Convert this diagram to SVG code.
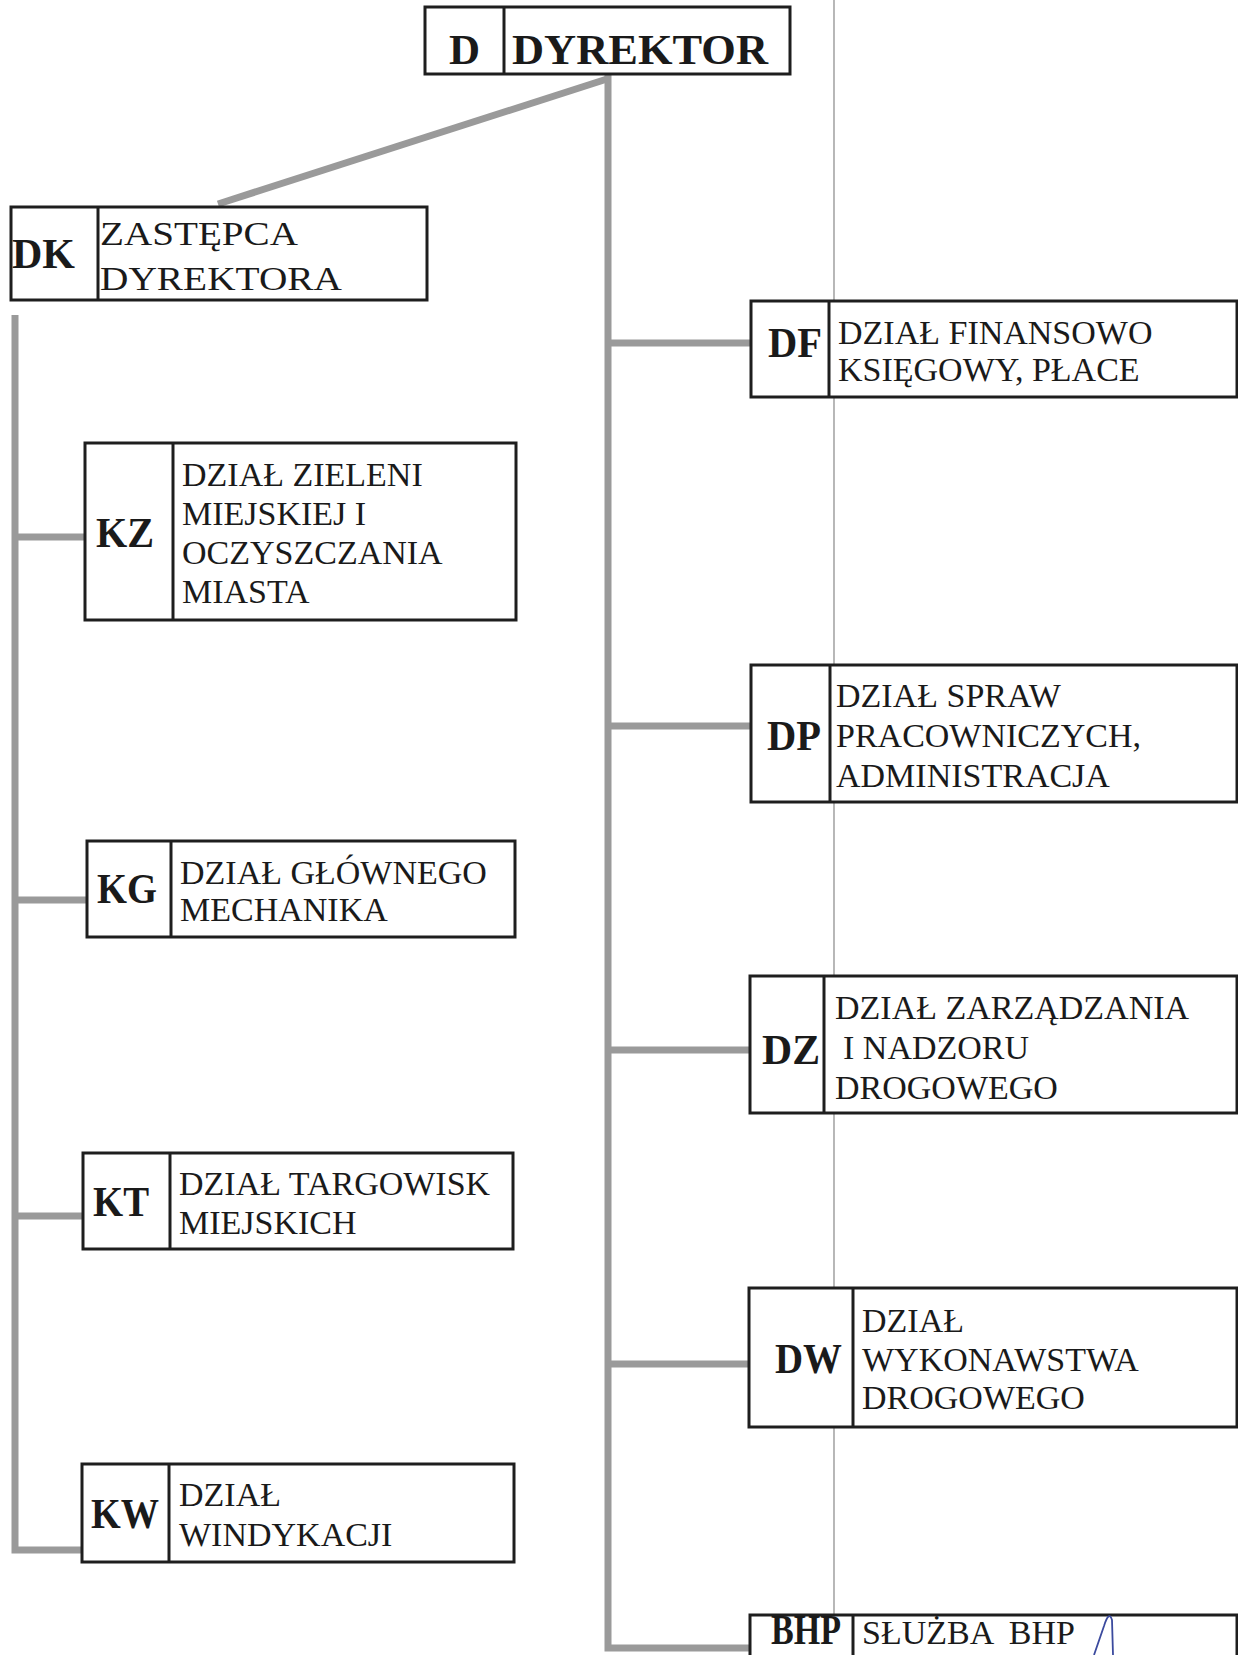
<svg xmlns="http://www.w3.org/2000/svg" width="1238" height="1655" viewBox="0 0 1238 1655">
<style>
.box{fill:#fff;stroke:#1e1e1e;stroke-width:3}
.dv{stroke:#1e1e1e;stroke-width:3}
.con{stroke:#9a9a9a;stroke-width:7;fill:none}
.code{font-family:"Liberation Serif","Times New Roman",serif;font-weight:bold;font-size:43px;fill:#1a1a1a}
.lbl{font-family:"Liberation Serif","Times New Roman",serif;font-size:34px;fill:#1a1a1a}
</style>
<rect width="1238" height="1655" fill="#fff"/>
<line x1="834" y1="0" x2="834" y2="1655" stroke="#888" stroke-width="1.2"/>
<g id="connectors">
<line class="con" x1="607" y1="79" x2="218" y2="204"/>
<polyline class="con" points="608,74 608,1648 750,1648"/>
<line class="con" x1="608" y1="343" x2="750" y2="343"/>
<line class="con" x1="608" y1="726" x2="750" y2="726"/>
<line class="con" x1="608" y1="1050" x2="749" y2="1050"/>
<line class="con" x1="608" y1="1364" x2="748" y2="1364"/>
<polyline class="con" points="15,315 15,1550 81,1550"/>
<line class="con" x1="15" y1="537" x2="84" y2="537"/>
<line class="con" x1="15" y1="900" x2="86" y2="900"/>
<line class="con" x1="15" y1="1216" x2="82" y2="1216"/>
</g>
<g id="node-D">
<rect class="box" x="425" y="7" width="365" height="67"/>
<line class="dv" x1="504" y1="7" x2="504" y2="74"/>
<text class="code" x="464.5" y="64" font-size="50" text-anchor="middle">D</text>
<text class="code" x="512" y="64" font-size="50" textLength="256" lengthAdjust="spacingAndGlyphs">DYREKTOR</text>
</g>
<g id="node-DK">
<rect class="box" x="11" y="207" width="416" height="93"/>
<line class="dv" x1="98" y1="207" x2="98" y2="300"/>
<text class="code" x="12" y="268" font-size="44" textLength="63" lengthAdjust="spacingAndGlyphs">DK</text>
<text class="lbl" x="100" y="245" font-size="40" textLength="198" lengthAdjust="spacingAndGlyphs">ZASTĘPCA</text>
<text class="lbl" x="100" y="290" font-size="40" textLength="242" lengthAdjust="spacingAndGlyphs">DYREKTORA</text>
</g>
<g id="node-KZ">
<rect class="box" x="85" y="443" width="431" height="177"/>
<line class="dv" x1="173" y1="443" x2="173" y2="620"/>
<text class="code" x="96" y="547" textLength="58" lengthAdjust="spacingAndGlyphs">KZ</text>
<text class="lbl" x="182" y="486">DZIAŁ ZIELENI</text>
<text class="lbl" x="182" y="525">MIEJSKIEJ I</text>
<text class="lbl" x="182" y="564">OCZYSZCZANIA</text>
<text class="lbl" x="182" y="603">MIASTA</text>
</g>
<g id="node-KG">
<rect class="box" x="87" y="841" width="428" height="96"/>
<line class="dv" x1="171" y1="841" x2="171" y2="937"/>
<text class="code" x="97" y="903" textLength="60" lengthAdjust="spacingAndGlyphs">KG</text>
<text class="lbl" x="180" y="884">DZIAŁ GŁÓWNEGO</text>
<text class="lbl" x="180" y="921">MECHANIKA</text>
</g>
<g id="node-KT">
<rect class="box" x="83" y="1153" width="430" height="96"/>
<line class="dv" x1="170" y1="1153" x2="170" y2="1249"/>
<text class="code" x="93" y="1216" textLength="56" lengthAdjust="spacingAndGlyphs">KT</text>
<text class="lbl" x="179" y="1195">DZIAŁ TARGOWISK</text>
<text class="lbl" x="179" y="1234">MIEJSKICH</text>
</g>
<g id="node-KW">
<rect class="box" x="82" y="1464" width="432" height="98"/>
<line class="dv" x1="169" y1="1464" x2="169" y2="1562"/>
<text class="code" x="91" y="1528" textLength="68" lengthAdjust="spacingAndGlyphs">KW</text>
<text class="lbl" x="179" y="1506">DZIAŁ</text>
<text class="lbl" x="179" y="1546">WINDYKACJI</text>
</g>
<g id="node-DF">
<rect class="box" x="751" y="301" width="486" height="96"/>
<line class="dv" x1="829" y1="301" x2="829" y2="397"/>
<text class="code" x="768" y="357" textLength="54" lengthAdjust="spacingAndGlyphs">DF</text>
<text class="lbl" x="838" y="344">DZIAŁ FINANSOWO</text>
<text class="lbl" x="838" y="381">KSIĘGOWY, PŁACE</text>
</g>
<g id="node-DP">
<rect class="box" x="751" y="665" width="486" height="137"/>
<line class="dv" x1="830" y1="665" x2="830" y2="802"/>
<text class="code" x="767" y="750" textLength="54" lengthAdjust="spacingAndGlyphs">DP</text>
<text class="lbl" x="836" y="707">DZIAŁ SPRAW</text>
<text class="lbl" x="836" y="747">PRACOWNICZYCH,</text>
<text class="lbl" x="836" y="787">ADMINISTRACJA</text>
</g>
<g id="node-DZ">
<rect class="box" x="750" y="976" width="487" height="137"/>
<line class="dv" x1="824" y1="976" x2="824" y2="1113"/>
<text class="code" x="762" y="1064" textLength="58" lengthAdjust="spacingAndGlyphs">DZ</text>
<text class="lbl" x="835" y="1019">DZIAŁ ZARZĄDZANIA</text>
<text class="lbl" x="843" y="1059">I NADZORU</text>
<text class="lbl" x="835" y="1099">DROGOWEGO</text>
</g>
<g id="node-DW">
<rect class="box" x="749" y="1288" width="488" height="139"/>
<line class="dv" x1="853" y1="1288" x2="853" y2="1427"/>
<text class="code" x="775" y="1373" textLength="67" lengthAdjust="spacingAndGlyphs">DW</text>
<text class="lbl" x="862" y="1332">DZIAŁ</text>
<text class="lbl" x="862" y="1371">WYKONAWSTWA</text>
<text class="lbl" x="862" y="1409">DROGOWEGO</text>
</g>
<g id="node-BHP">
<rect class="box" x="750" y="1615" width="487" height="60"/>
<line class="dv" x1="853" y1="1615" x2="853" y2="1675"/>
<text class="code" x="771" y="1644" textLength="70" lengthAdjust="spacingAndGlyphs">BHP</text>
<text class="lbl" x="862" y="1644" word-spacing="8">SŁUŻBA BHP</text>
</g>
<path d="M1094,1655 L1104,1626 Q1109,1610 1112,1620 L1113,1655" fill="none" stroke="#3b4a9e" stroke-width="1.8"/>
</svg>
